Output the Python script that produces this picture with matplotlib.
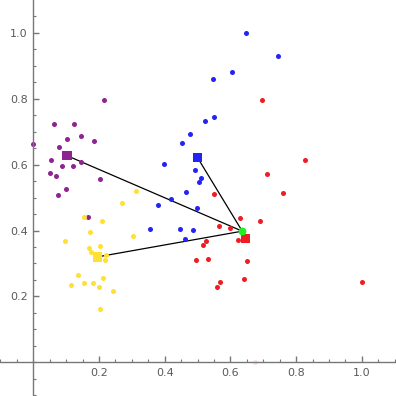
import numpy as np
import matplotlib
matplotlib.use('Agg')
import matplotlib.pyplot as plt
from matplotlib.ticker import MultipleLocator, FixedLocator

# cluster points
purple_x = [0.000, 0.064, 0.125, 0.216, 0.079, 0.104, 0.146, 0.186, 0.055, 0.086,
            0.122, 0.146, 0.052, 0.070, 0.204, 0.100, 0.076, 0.166]
purple_y = [0.662, 0.722, 0.722, 0.796, 0.654, 0.677, 0.686, 0.671, 0.613, 0.595,
            0.595, 0.607, 0.574, 0.564, 0.555, 0.525, 0.507, 0.440]

yellow_x = [0.271, 0.155, 0.210, 0.174, 0.097, 0.304, 0.204, 0.170, 0.177, 0.222,
            0.219, 0.137, 0.116, 0.155, 0.183, 0.213, 0.201, 0.244, 0.204, 0.314]
yellow_y = [0.483, 0.440, 0.428, 0.395, 0.369, 0.382, 0.352, 0.346, 0.334, 0.326,
            0.310, 0.264, 0.234, 0.240, 0.241, 0.255, 0.228, 0.215, 0.161, 0.519]

blue_x = [0.647, 0.746, 0.606, 0.548, 0.551, 0.524, 0.478, 0.454, 0.399, 0.493,
          0.510, 0.505, 0.466, 0.420, 0.379, 0.497, 0.356, 0.447, 0.487, 0.461]
blue_y = [0.998, 0.929, 0.880, 0.859, 0.744, 0.731, 0.692, 0.665, 0.602, 0.583,
          0.558, 0.546, 0.516, 0.495, 0.476, 0.467, 0.404, 0.404, 0.401, 0.375]

red_x = [0.697, 0.828, 0.712, 0.761, 0.551, 0.630, 0.691, 0.566, 0.600, 0.622,
         0.527, 0.517, 0.533, 0.649, 0.569, 0.560, 0.642, 1.001, 0.494]
red_y = [0.795, 0.613, 0.571, 0.513, 0.511, 0.437, 0.428, 0.413, 0.408, 0.370,
         0.367, 0.355, 0.312, 0.307, 0.244, 0.228, 0.252, 0.243, 0.310]

# faint point sitting on the x axis
faint_x = [0.676]
faint_y = [0.0]

# cluster centres (squares) and the new point (green)
centers_x = [0.103, 0.500, 0.196, 0.645]
centers_y = [0.627, 0.621, 0.320, 0.376]
center_colors = ['#8E2491', '#2323F5', '#FFE033', '#EE1C24']
green_x, green_y = 0.636, 0.398

fig = plt.figure(figsize=(3.96, 3.96), dpi=100)
ax = fig.add_axes([0, 0, 1, 1])

# lines from each centre to the green point
for cx, cy in zip(centers_x, centers_y):
    ax.plot([cx, green_x], [cy, green_y], color='black', lw=0.9, zorder=1)

ax.scatter(purple_x, purple_y, s=13, color='#8E2491', lw=0, zorder=2)
ax.scatter(yellow_x, yellow_y, s=13, color='#FFE033', lw=0, zorder=2)
ax.scatter(blue_x, blue_y, s=13, color='#2323F5', lw=0, zorder=2)
ax.scatter(red_x, red_y, s=13, color='#EE1C24', lw=0, zorder=2)
ax.scatter(faint_x, faint_y, s=13, color='#EE1C24', alpha=0.12, lw=0, zorder=2)

ax.scatter(centers_x, centers_y, s=45, marker='s', color=center_colors, lw=0, zorder=3)
ax.scatter([green_x], [green_y], s=32, color='#22EE22', lw=0, zorder=4)

ax.set_xlim(-0.1014, 1.1041)
ax.set_ylim(-0.1023, 1.0996)

# mathematica style axes through the origin
ax.spines['left'].set_position(('data', 0))
ax.spines['bottom'].set_position(('data', 0))
ax.spines['top'].set_visible(False)
ax.spines['right'].set_visible(False)
for s in ['left', 'bottom']:
    ax.spines[s].set_color('#777777')
    ax.spines[s].set_linewidth(1.0)

ax.xaxis.set_major_locator(FixedLocator([0.2, 0.4, 0.6, 0.8, 1.0]))
ax.yaxis.set_major_locator(FixedLocator([0.2, 0.4, 0.6, 0.8, 1.0]))
ax.xaxis.set_minor_locator(MultipleLocator(0.05))
ax.yaxis.set_minor_locator(MultipleLocator(0.05))
ax.set_xticklabels(['0.2', '0.4', '0.6', '0.8', '1.0'])
ax.set_yticklabels(['0.2', '0.4', '0.6', '0.8', '1.0'])

ax.tick_params(which='major', direction='in', length=4, width=1, color='#777777',
               labelsize=8, labelcolor='#5a5a5a', pad=4)
ax.tick_params(which='minor', direction='in', length=2.5, width=0.8, color='#777777')

fig.savefig('out.png', dpi=100)
